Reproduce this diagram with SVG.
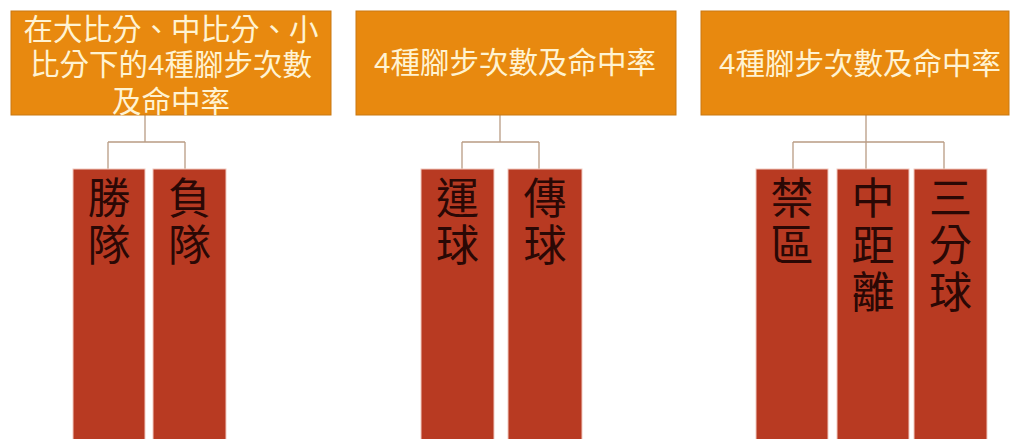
<svg xmlns="http://www.w3.org/2000/svg" width="1013" height="439" viewBox="0 0 1013 439">
<style>
.hdr{fill:#E8890F;stroke:#C97812;stroke-width:1}
.hdt{font-family:"Liberation Sans","Noto Sans CJK TC","Noto Sans CJK SC",sans-serif;font-size:29.5px;fill:#FFF3D2;text-anchor:middle}
.leaf{fill:#B83A22;stroke:#F2C9C0;stroke-width:1}
.lft{font-family:"Noto Sans CJK TC","Noto Sans CJK SC",sans-serif;font-size:43px;fill:#2A0805;writing-mode:vertical-rl;letter-spacing:4px}
.con{fill:none;stroke:#B99C84;stroke-width:1.3}
</style>
<rect width="1013" height="439" fill="#FFFFFF"/>
<g id="connectors">
<path class="con" d="M145,115 V142 M108,142 H185 M108,142 V169 M185,142 V169"/>
<path class="con" d="M500,115 V142 M462,142 H539 M462,142 V169 M539,142 V169"/>
<path class="con" d="M866,115 V142 M793,142 H944 M793,142 V169 M866,142 V169 M944,142 V169"/>
</g>
<g id="root1">
<rect class="hdr" x="11" y="11" width="320" height="104"/>
<text class="hdt"><tspan x="171" y="40">在大比分、中比分、小</tspan><tspan x="171" y="75">比分下的4種腳步次數</tspan><tspan x="171" y="112">及命中率</tspan></text>
</g>
<g id="root2">
<rect class="hdr" x="356" y="11" width="320" height="104"/>
<text class="hdt" x="515" y="73">4種腳步次數及命中率</text>
</g>
<g id="root3">
<rect class="hdr" x="701" y="11" width="308" height="104"/>
<text class="hdt" x="860" y="74">4種腳步次數及命中率</text>
</g>
<g id="n-win">
<rect class="leaf" x="73" y="169" width="72" height="275"/>
<text class="lft" x="109" y="176">勝隊</text>
</g>
<g id="n-lose">
<rect class="leaf" x="153" y="169" width="73" height="275"/>
<text class="lft" x="189.5" y="176">負隊</text>
</g>
<g id="n-dribble">
<rect class="leaf" x="421" y="169" width="73" height="275"/>
<text class="lft" x="457.5" y="176">運球</text>
</g>
<g id="n-pass">
<rect class="leaf" x="508" y="169" width="74" height="275"/>
<text class="lft" x="545" y="176">傳球</text>
</g>
<g id="n-paint">
<rect class="leaf" x="756" y="169" width="72" height="275"/>
<text class="lft" x="792" y="176">禁區</text>
</g>
<g id="n-mid">
<rect class="leaf" x="837" y="169" width="72" height="275"/>
<text class="lft" x="873" y="176">中距離</text>
</g>
<g id="n-three">
<rect class="leaf" x="914" y="169" width="73" height="275"/>
<text class="lft" x="950.5" y="176">三分球</text>
</g>
</svg>
